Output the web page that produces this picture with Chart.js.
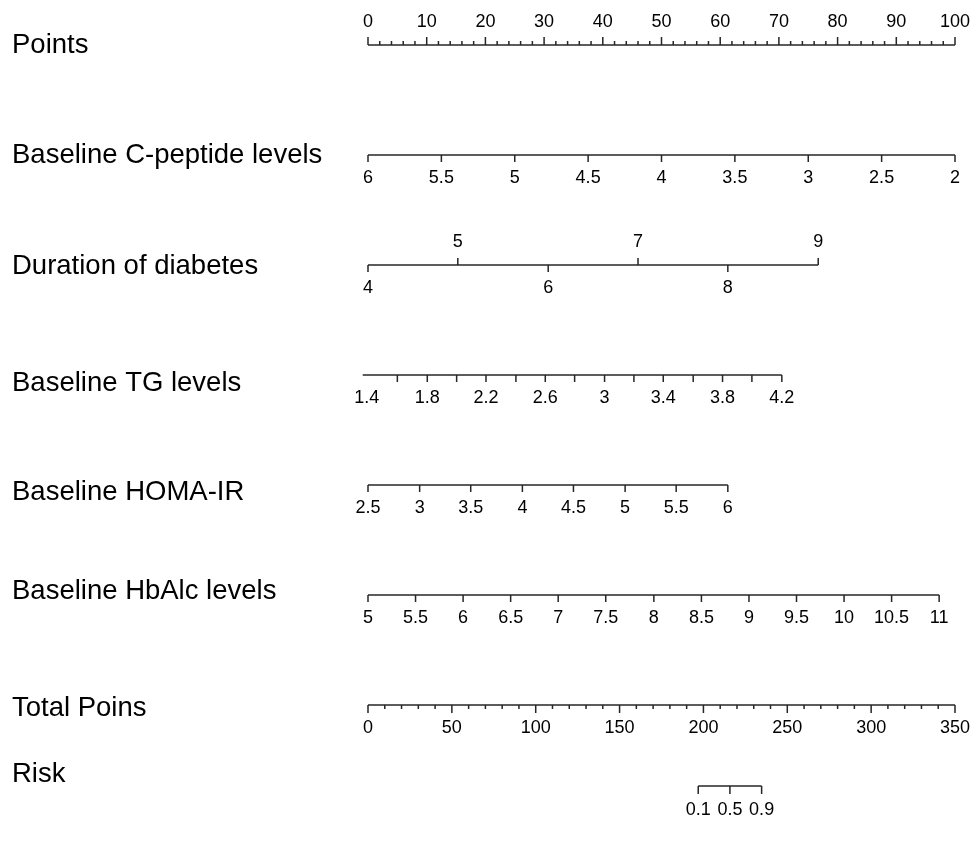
<!DOCTYPE html>
<html>
<head>
<meta charset="utf-8">
<script src="https://cdn.jsdelivr.net/npm/chart.js@4.4.1/dist/chart.umd.min.js"></script>
<style>
  body { margin: 0; background: #fff; }
  canvas { display: block; }
</style>
</head>
<body>
<canvas id="nomogram" width="974" height="848"></canvas>
<script>
// etiquetas de las filas
const rowNames = ['Points', 'Baseline C-peptide levels', 'Duration of diabetes', 'Baseline TG levels',
  'Baseline HOMA-IR', 'Baseline HbAlc levels', 'Total Poins', 'Risk'];

// escala de puntos
const pointsLabels = [0, 10, 20, 30, 40, 50, 60, 70, 80, 90, 100];

// valores de cada variable y su posicion en la escala de puntos
const cpepValues = ['6', '5.5', '5', '4.5', '4', '3.5', '3', '2.5', '2'];
const cpepPoints = [0, 12.5, 25, 37.5, 50, 62.5, 75, 87.5, 100];

const durationValues = ['4', '5', '6', '7', '8', '9'];
const durationPoints = [0, 15.3, 30.7, 46.0, 61.3, 76.7];

const tgValues = ['1.4', '1.6', '1.8', '2', '2.2', '2.4', '2.6', '2.8', '3', '3.2', '3.4', '3.6', '3.8', '4', '4.2'];
const tgPoints = [-0.9, 5.0, 10.1, 15.1, 20.1, 25.2, 30.2, 35.2, 40.3, 45.3, 50.3, 55.4, 60.4, 65.4, 70.5];
const tgShown = ['1.4', '1.8', '2.2', '2.6', '3', '3.4', '3.8', '4.2'];

const homaValues = ['2.5', '3', '3.5', '4', '4.5', '5', '5.5', '6'];
const homaPoints = [0, 8.8, 17.5, 26.3, 35.0, 43.8, 52.5, 61.3];

const hba1cValues = ['5', '5.5', '6', '6.5', '7', '7.5', '8', '8.5', '9', '9.5', '10', '10.5', '11'];
const hba1cPoints = [0, 8.1, 16.2, 24.3, 32.4, 40.5, 48.7, 56.8, 64.9, 73.0, 81.1, 89.2, 97.3];

// escala de puntos totales
const totalLabels = [0, 50, 100, 150, 200, 250, 300, 350];

// riesgo y su posicion en puntos totales
const riskValues = ['0.1', '0.5', '0.9'];
const riskTotalPoints = [196.9, 215.8, 234.7];

// posiciones verticales (px)
const lineY = [45, 155, 265, 375, 485, 595, 705, 786];
const titleY = [45, 155, 266, 383, 492, 591, 708, 774];
const axisColor = '#262626';

function axisLine(x0, x1, y, axisId) {
  return {
    data: [{ x: x0, y: y }, { x: x1, y: y }],
    xAxisID: axisId || 'x'
  };
}

// segmentos de marcas: dir = 1 hacia abajo, -1 hacia arriba
function tickMarks(xs, y, len, dir, axisId) {
  const data = [];
  xs.forEach(v => {
    data.push({ x: v, y: y });
    data.push({ x: v, y: y + dir * len });
    data.push({ x: v, y: null });
  });
  return { data: data, xAxisID: axisId || 'x' };
}

const minorPoints = [];
for (let i = 0; i <= 100; i += 2) { if (i % 10 !== 0) minorPoints.push(i); }
const minorTotal = [];
for (let i = 0; i <= 350; i += 10) { if (i % 50 !== 0) minorTotal.push(i); }

const durUp = durationPoints.filter((p, i) => i % 2 === 1);
const durDown = durationPoints.filter((p, i) => i % 2 === 0);

const datasets = [
  axisLine(0, 100, lineY[0]),
  tickMarks(pointsLabels, lineY[0], 8, -1),
  tickMarks(minorPoints, lineY[0], 4, -1),
  axisLine(cpepPoints[0], cpepPoints[cpepPoints.length - 1], lineY[1]),
  tickMarks(cpepPoints, lineY[1], 7, 1),
  axisLine(durationPoints[0], durationPoints[durationPoints.length - 1], lineY[2]),
  tickMarks(durUp, lineY[2], 7, -1),
  tickMarks(durDown, lineY[2], 7, 1),
  axisLine(tgPoints[0], tgPoints[tgPoints.length - 1], lineY[3]),
  tickMarks(tgPoints, lineY[3], 7, 1),
  axisLine(homaPoints[0], homaPoints[homaPoints.length - 1], lineY[4]),
  tickMarks(homaPoints, lineY[4], 7, 1),
  axisLine(hba1cPoints[0], hba1cPoints[hba1cPoints.length - 1], lineY[5]),
  tickMarks(hba1cPoints, lineY[5], 7, 1),
  axisLine(0, 350, lineY[6], 'x2'),
  tickMarks(totalLabels, lineY[6], 8, 1, 'x2'),
  tickMarks(minorTotal, lineY[6], 4, 1, 'x2'),
  axisLine(riskTotalPoints[0], riskTotalPoints[riskTotalPoints.length - 1], lineY[7], 'x2'),
  tickMarks(riskTotalPoints, lineY[7], 8, 1, 'x2')
].map(ds => Object.assign(ds, {
  showLine: true,
  borderColor: axisColor,
  borderWidth: 1.5,
  pointRadius: 0,
  spanGaps: false,
  clip: false
}));

const textPlugin = {
  id: 'nomoText',
  afterDatasetsDraw(chart) {
    const ctx = chart.ctx;
    const sx = chart.scales.x;
    const sx2 = chart.scales.x2;
    const sy = chart.scales.y;
    ctx.save();
    ctx.fillStyle = '#000';
    ctx.textBaseline = 'middle';

    // titulos de fila
    ctx.textAlign = 'left';
    ctx.font = '27.5px "Liberation Sans", Arial, sans-serif';
    rowNames.forEach((name, i) => ctx.fillText(name, 12, sy.getPixelForValue(titleY[i])));

    ctx.textAlign = 'center';
    ctx.font = '18px "Liberation Sans", Arial, sans-serif';
    const put = (scale, v, label, y) => ctx.fillText(label, scale.getPixelForValue(v), sy.getPixelForValue(y));

    pointsLabels.forEach(v => put(sx, v, String(v), lineY[0] - 23));
    cpepValues.forEach((lab, i) => put(sx, cpepPoints[i], lab, lineY[1] + 23));
    durationValues.forEach((lab, i) => put(sx, durationPoints[i], lab, i % 2 === 1 ? lineY[2] - 23 : lineY[2] + 23));
    // la primera etiqueta de TG va un poco a la derecha del inicio de la linea
    tgValues.forEach((lab, i) => { if (tgShown.includes(lab)) put(sx, tgPoints[i] + (i === 0 ? 0.7 : 0), lab, lineY[3] + 23); });
    homaValues.forEach((lab, i) => put(sx, homaPoints[i], lab, lineY[4] + 23));
    hba1cValues.forEach((lab, i) => put(sx, hba1cPoints[i], lab, lineY[5] + 23));
    totalLabels.forEach(v => put(sx2, v, String(v), lineY[6] + 23));
    riskValues.forEach((lab, i) => put(sx2, riskTotalPoints[i], lab, lineY[7] + 24));
    ctx.restore();
  }
};

new Chart(document.getElementById('nomogram'), {
  type: 'scatter',
  data: { datasets: datasets },
  options: {
    responsive: false,
    animation: false,
    devicePixelRatio: 1,
    layout: { padding: { left: 368, right: 19, top: 0, bottom: 0 } },
    plugins: { legend: { display: false }, tooltip: { enabled: false } },
    scales: {
      x: { type: 'linear', min: 0, max: 100, display: false },
      x2: { type: 'linear', min: 0, max: 350, display: false },
      y: { type: 'linear', min: 0, max: 848, reverse: true, display: false }
    }
  },
  plugins: [textPlugin]
});
</script>
</body>
</html>
